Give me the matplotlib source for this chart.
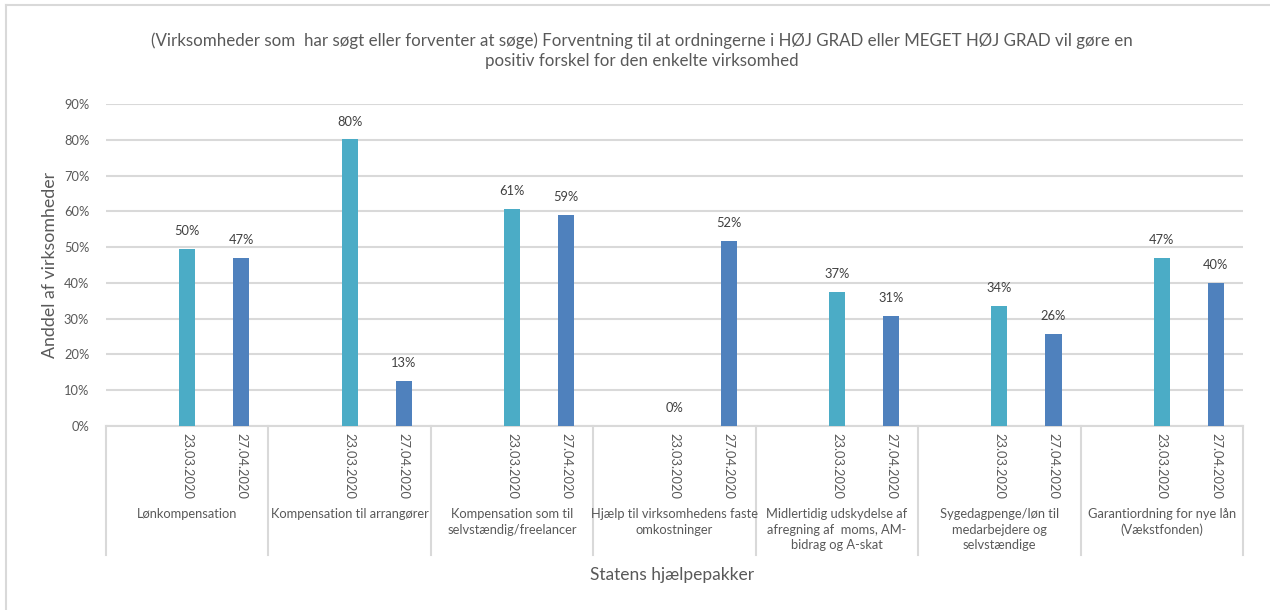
import numpy as np
import matplotlib.pyplot as plt
from matplotlib.lines import Line2D
from matplotlib.transforms import blended_transform_factory

plt.rcParams['font.family'] = ['Lato', 'DejaVu Sans']

categories = ['Lønkompensation',
              'Kompensation til arrangører',
              'Kompensation som til\nselvstændig/freelancer',
              'Hjælp til virksomhedens faste\nomkostninger',
              'Midlertidig udskydelse af\nafregning af  moms, AM-\nbidrag og A-skat',
              'Sygedagpenge/løn til\nmedarbejdere og\nselvstændige',
              'Garantiordning for nye lån\n(Vækstfonden)']
dates = ['23.03.2020', '27.04.2020']
v_2303 = [49.5, 80.1, 60.7, 0.0, 37.4, 33.6, 47.0]
v_2704 = [47.0, 12.6, 59.1, 51.7, 30.7, 25.7, 40.1]
yticks = [0, 10, 20, 30, 40, 50, 60, 70, 80, 90]

grey = '#595959'
light = '#D9D9D9'
colors = ['#4BACC6', '#4F81BD']

fig = plt.figure(figsize=(12.7, 6.1), dpi=100)
ax = fig.add_axes([106/1270, 1-426/610, (1243-106)/1270, (426-104)/610])

n = len(categories)
base = np.arange(n)*3
for k, vals in enumerate([v_2303, v_2704]):
    xs = base + 1 + k
    ax.bar(xs, vals, width=0.3, color=colors[k], zorder=3)
    for x, v in zip(xs, vals):
        ax.text(x, v + 5.0, '%d%%' % round(v), ha='center', va='center',
                fontsize=9.3, color='#404040')

ax.set_xlim(-0.5, 3*n - 0.5)
ax.set_ylim(0, 90)
ax.set_yticks(yticks)
ax.set_yticklabels(['%d%%' % t for t in yticks], fontsize=9.3, color=grey)
ax.tick_params(axis='y', length=0, pad=12)
ax.set_xticks([])
ax.grid(axis='y', color=light, linewidth=1.5, zorder=0)
for s in ['top', 'right', 'left']:
    ax.spines[s].set_visible(False)
ax.spines['bottom'].set_color(light)
ax.spines['bottom'].set_linewidth(1.5)

tr = blended_transform_factory(ax.transData, ax.transAxes)
sep_bottom = -(555-426)/322
for i in range(n + 1):
    ax.plot([3*i - 0.5, 3*i - 0.5], [0, sep_bottom], transform=tr,
            color=light, linewidth=1.5, clip_on=False)
for i in range(n):
    for k, d in enumerate(dates):
        ax.text(3*i + 1 + k, -0.022, d, transform=tr, rotation=-90,
                ha='center', va='top', fontsize=9.3, color=grey)
    ax.text(3*i + 1, -(508-426)/322, categories[i], transform=tr,
            ha='center', va='top', fontsize=9.3, color=grey, linespacing=1.35)

ax.set_ylabel('Anddel af virksomheder', fontsize=12.8, color=grey, labelpad=4)
fig.text(672/1270, 1-575/610, 'Statens hjælpepakker', ha='center', va='center',
         fontsize=12.5, color=grey)
fig.text(642/1270, 1-51/610,
         '(Virksomheder som  har søgt eller forventer at søge) Forventning til at ordningerne i HØJ GRAD eller MEGET HØJ GRAD vil gøre en\npositiv forskel for den enkelte virksomhed',
         ha='center', va='center', fontsize=12.2, color=grey, linespacing=1.3)

fig.add_artist(Line2D([6/1270, 6/1270], [0, 1-5/610], color=light, linewidth=1.5))
fig.add_artist(Line2D([6/1270, 1], [1-5/610, 1-5/610], color=light, linewidth=1.5))

fig.savefig('out.png', dpi=100)
